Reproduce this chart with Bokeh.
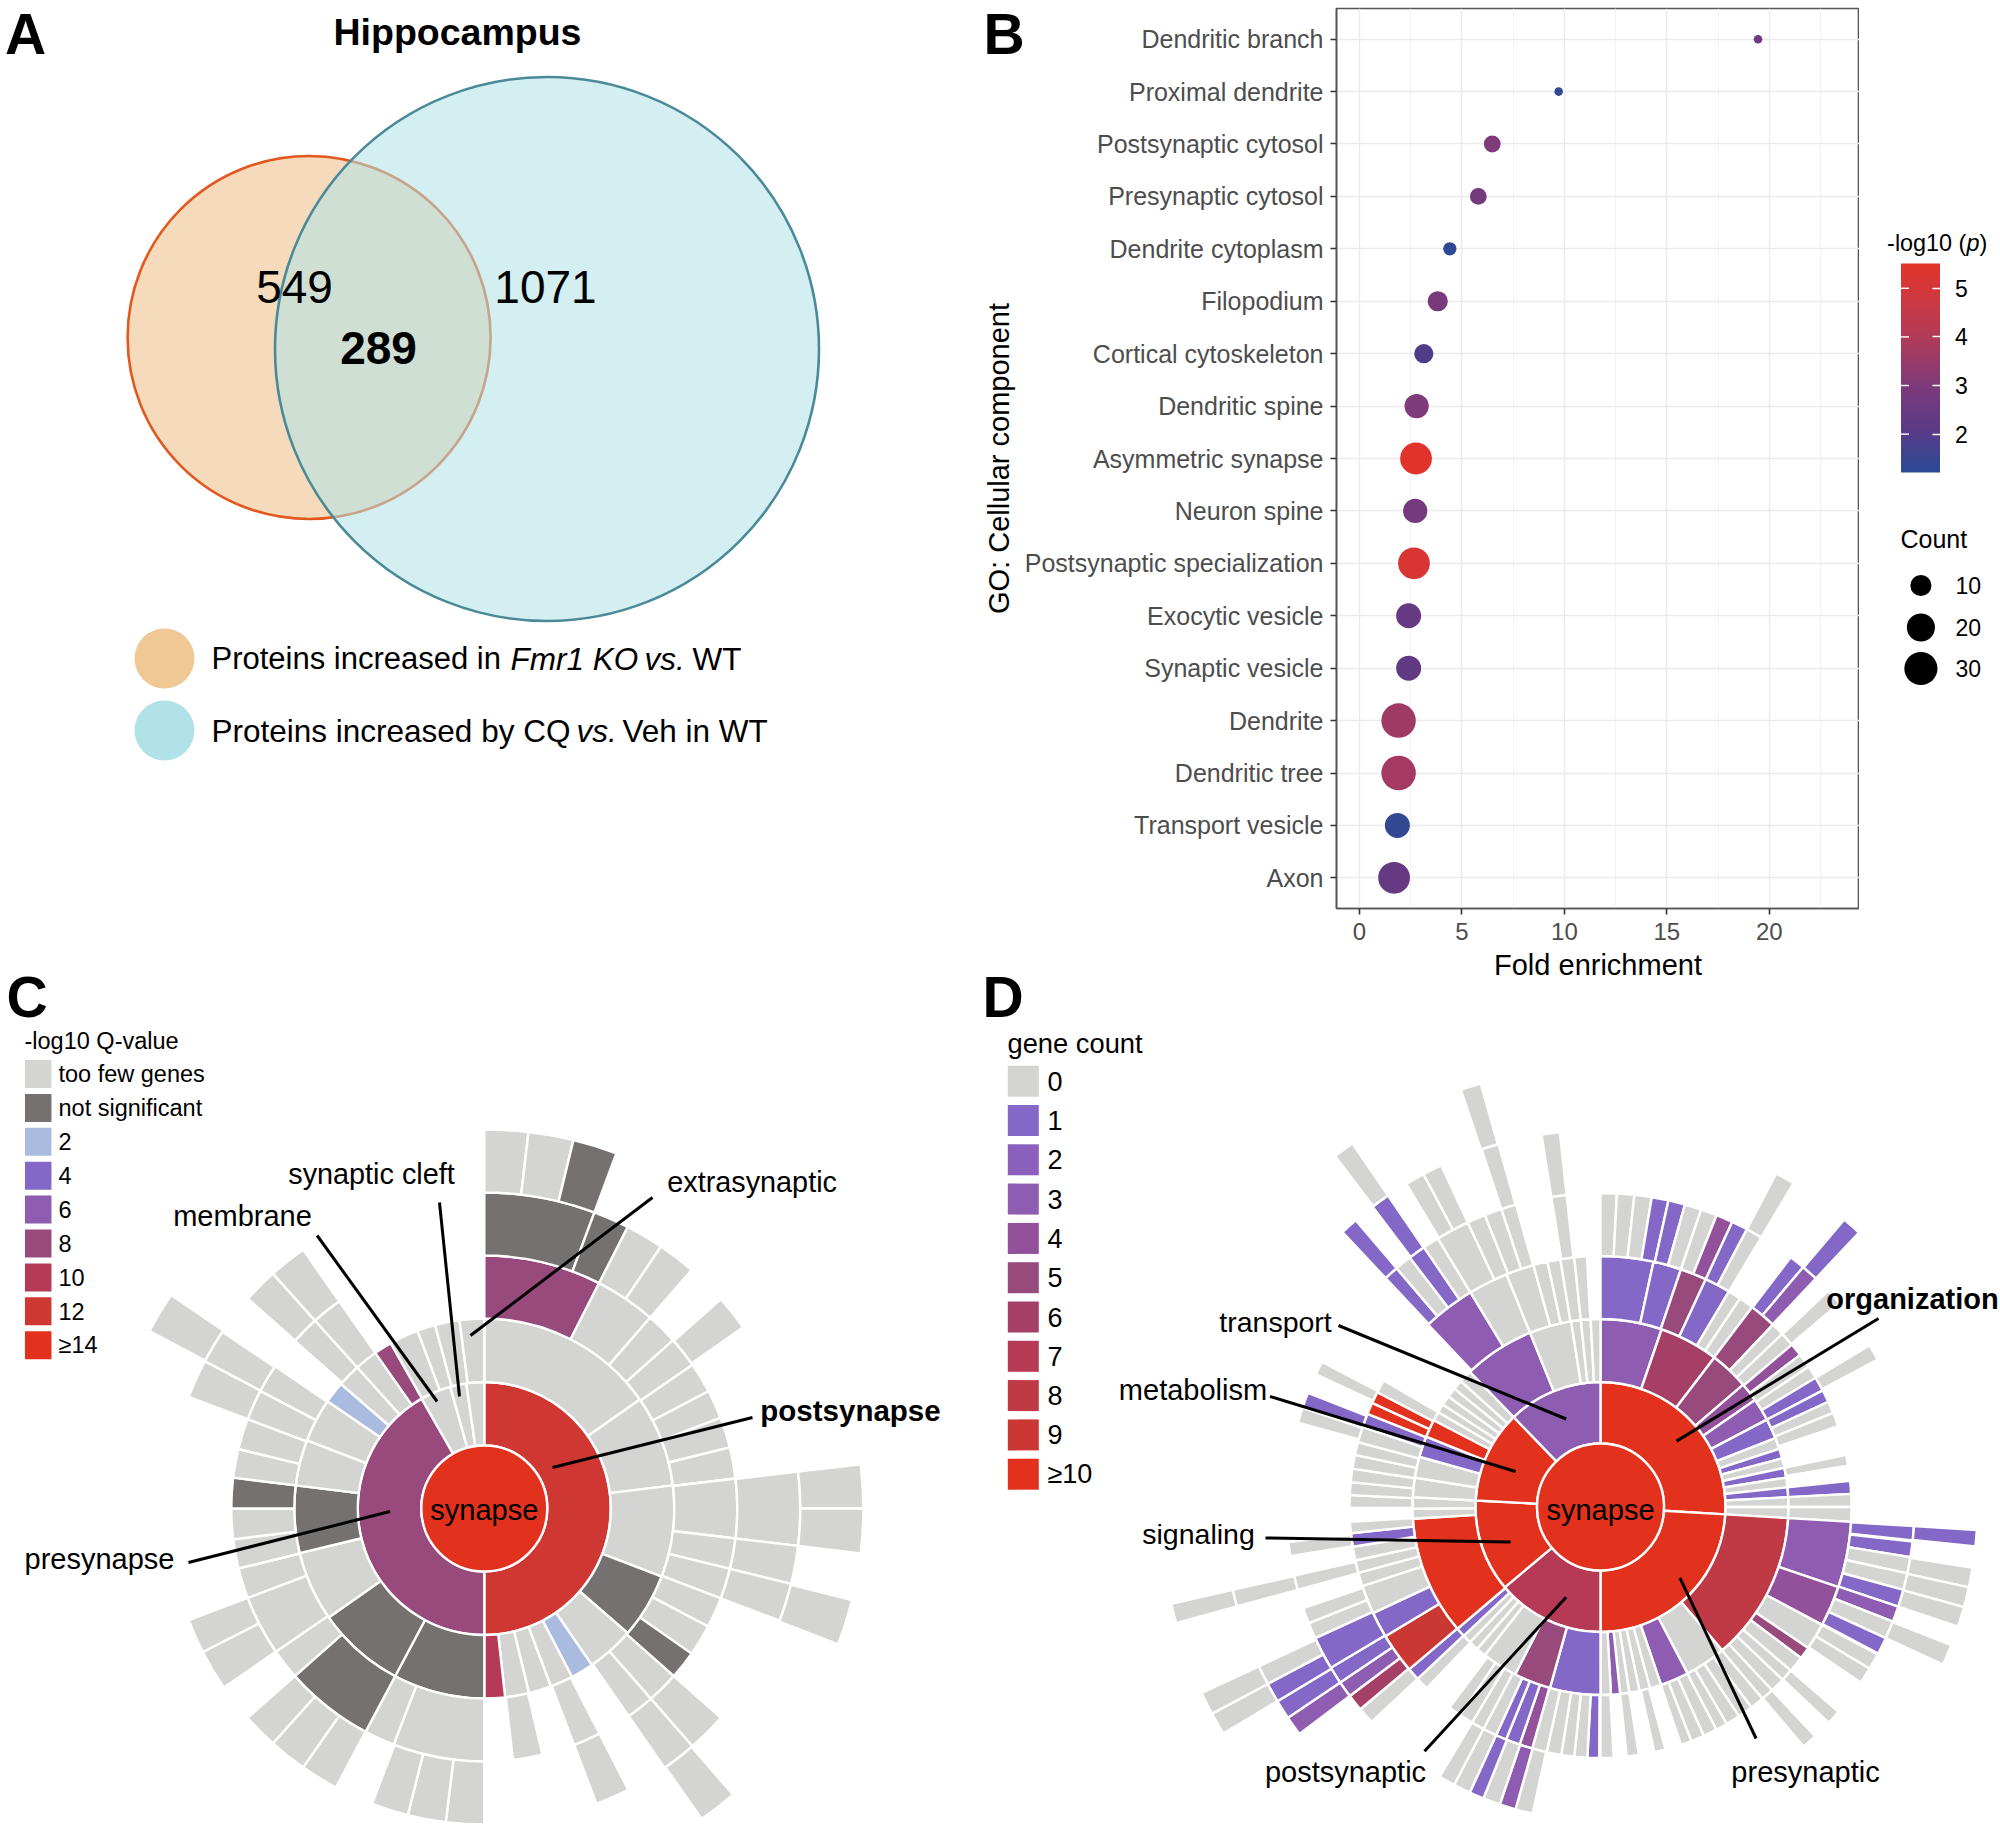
from bokeh.embed import file_html
from bokeh.resources import INLINE
from bokeh.plotting import figure
from bokeh.layouts import column, row
from bokeh.models import (ColumnDataSource, Range1d, FactorRange, FixedTicker, LinearColorMapper,
                          ColorBar)
from bokeh.core.properties import value
import math

FONT = "Liberation Sans"

# ---------- Panel A: Venn
venn_counts = ["549", "1071", "289"]
venn_title = "Hippocampus"
venn_legend_colors = ["#f0c896", "#b0e2e8"]

# ---------- Panel B: dot plot
go_terms = ["Dendritic branch", "Proximal dendrite", "Postsynaptic cytosol", "Presynaptic cytosol",
            "Dendrite cytoplasm", "Filopodium", "Cortical cytoskeleton", "Dendritic spine",
            "Asymmetric synapse", "Neuron spine", "Postsynaptic specialization", "Exocytic vesicle",
            "Synaptic vesicle", "Dendrite", "Dendritic tree", "Transport vesicle", "Axon"]
fold_enrichment = [19.45, 9.72, 6.48, 5.8, 4.41, 3.82, 3.14, 2.79, 2.76, 2.72, 2.66, 2.4, 2.4, 1.91, 1.91, 1.85, 1.69]
minus_log_p = [2.5, 1.4, 3.0, 2.8, 1.3, 2.9, 1.9, 3.0, 5.5, 2.8, 5.2, 2.4, 2.3, 3.6, 3.7, 1.4, 2.4]
gene_count = [3, 3, 6, 6, 4, 9, 8, 14, 27, 14, 27, 15, 15, 33, 33, 15, 27]
count_legend = [10, 20, 30]
x_ticks = [0, 5, 10, 15, 20]
x_minor = [2.5, 7.5, 12.5, 17.5, 22.5]
cbar_ticks = [2, 3, 4, 5]
cbar_low, cbar_high = 1.21, 5.51
cbar_anchor_colors = ["#2a4a96", "#5a3a87", "#7a3a7c", "#a83a5f", "#c93a45", "#e2332a"]

# ---------- Panel C: sunburst (-log10 Q-value)
c_levels = ["too few genes", "not significant", "2", "4", "6", "8", "10", "12", "≥14"]
c_colors = ["#d4d4d2", "#757170", "#a9bbdf", "#8468c8", "#8e5cb0", "#984a7d", "#b63a55", "#cf3733", "#e2311d"]
F, N = "too few genes", "not significant"
c_ring1 = [(0, 180, "12"), (180, 330.3, "8"), (330.3, 344.4, F), (344.4, 351.8, F), (351.8, 360, F)]
c_ring2 = [(0, 55, F), (55, 83, F), (83, 111, F), (111, 131, N), (131, 145.5, F), (145.5, 152.5, "2"),
           (152.5, 159.5, F), (159.5, 166.4, F), (166.4, 173.7, F), (173.7, 180, "10"), (180, 208, N),
           (208, 235, N), (235, 256.4, F), (256.4, 277, N), (277, 291, F), (291, 304.4, F), (304.4, 311, "2"),
           (311, 318, F), (318, 325, F), (325, 330.5, "8"), (330.5, 339.4, F), (339.4, 345, F), (345, 352.5, F),
           (352.5, 360, F)]
c_ring3 = [(0, 27, "8"), (27, 41, F), (41, 48.3, F), (48.3, 55.4, F), (55.4, 62.4, F), (62.4, 69, F), (69, 76, F),
           (76, 83.2, F), (83.2, 96.8, F), (96.8, 103.8, F), (103.8, 110.8, F), (110.8, 117.8, F), (117.8, 125, F),
           (125, 131.5, N), (131.5, 138.8, F), (138.8, 145.2, F), (152.9, 159.2, F), (166.7, 173.5, F), (180, 201, F),
           (201, 208, F), (208, 228.5, N), (228.5, 235.5, F), (235.5, 249.3, F), (249.3, 256.3, F), (256.3, 263, F),
           (263, 270, F), (270, 277, N), (277, 283.6, F), (283.6, 290.7, F), (290.7, 297.7, F), (297.7, 304.2, F),
           (311.5, 318, F), (318, 325, F)]
c_ring4 = [(0, 20.4, N), (20.4, 27, N), (27, 34, F), (34, 41, F), (48.5, 55, F), (83.3, 96.8, F), (96.8, 103.8, F),
           (103.8, 110.8, F), (131.5, 138.8, F), (138.8, 145.2, F), (152.9, 159.2, F), (180, 187, F), (187, 194, F),
           (194, 200.8, F), (208, 215, F), (215, 222, F), (222, 228.5, F), (235.5, 243, F), (243, 249.3, F),
           (290.7, 297.8, F), (297.8, 304, F), (311.6, 318, F), (318, 325, F)]
c_ring5 = [(0, 6.7, F), (6.7, 13.6, F), (13.6, 20.4, N), (83.3, 90, F), (90, 96.8, F), (104, 111, F), (139, 145, F),
           (297.9, 304.3, F)]

# ---------- Panel D: sunburst (gene count)
d_levels = ["0", "1", "2", "3", "4", "5", "6", "7", "8", "9", "≥10"]
d_colors = ["#d4d4d2", "#8468c8", "#8a60bc", "#8e5cb0", "#92519a", "#984a7d", "#a63f66", "#b63a55", "#c03a45", "#cb3733", "#e2311d"]
d_ring1 = [(0, 93.4, "≥10"), (93.4, 180, "≥10"), (180, 230, "7"), (230, 273, "≥10"), (273, 316, "≥10"), (316, 360, "3")]
d_ring2 = [(0, 19, "3"), (19, 37.3, "6"), (37.3, 49.4, "5"), (49.4, 55.3, "4"), (55.3, 62.3, "3"), (62.3, 68.5, "1"),
           (68.5, 72, "0"), (72, 75, "1"), (75, 78, "0"), (78, 81, "1"), (81, 84, "0"), (84, 87, "1"), (87, 90, "0"),
           (90, 93.4, "0"), (93.4, 139.7, "8"), (139.7, 152.4, "0"), (152.4, 161.2, "3"), (161.2, 164.7, "0"),
           (164.7, 168, "0"), (168, 171.2, "0"), (171.2, 174, "0"), (174, 176.8, "3"), (176.8, 180, "0"),
           (180, 195.6, "1"), (195.6, 207, "5"), (207, 218, "0"), (218, 221, "0"), (221, 224, "0"), (224, 226.7, "0"),
           (226.7, 229.6, "1"), (229.6, 266.4, "≥10"), (266.4, 269.5, "0"), (269.5, 273, "0"), (273, 279, "0"),
           (279, 285.5, "0"), (285.5, 292, "1"), (292, 297.5, "≥10"), (297.5, 300.3, "0"), (300.3, 303, "0"),
           (303, 306, "0"), (306, 309, "0"), (309, 312, "0"), (312, 316, "0"), (316, 338, "3"), (338, 351, "0"),
           (351, 354, "0"), (354, 357, "0"), (357, 360, "0")]
d_ring3 = [(0, 12.2, "1"), (12.2, 18.7, "1"), (18.7, 24.8, "5"), (24.8, 30.8, "1"), (30.8, 33.8, "0"), (33.8, 37.2, "0"),
           (37.2, 43.4, "5"), (43.4, 46.4, "0"), (46.4, 49.7, "0"), (49.7, 52.7, "4"), (52.7, 56, "0"), (56, 59, "0"),
           (59, 62.3, "1"), (62.3, 65.2, "1"), (65.2, 68, "0"), (68, 71.2, "0"), (78, 80.5, "0"), (84, 87, "1"),
           (87, 90, "0"), (90, 93.4, "0"), (93.4, 108.6, "3"), (108.6, 118, "4"), (118, 124.2, "0"), (124.2, 127, "5"),
           (127, 130.7, "0"), (130.7, 133.5, "0"), (133.5, 136.9, "0"), (136.9, 139.8, "0"), (139.8, 143, "0"),
           (143, 146.5, "0"), (146.5, 149.8, "0"), (149.8, 152.5, "0"), (152.5, 155.7, "0"), (155.7, 158.8, "0"),
           (158.8, 161.3, "0"), (165, 167.6, "0"), (171.2, 174, "0"), (177, 180, "0"), (180.3, 183, "1"), (183, 186, "0"),
           (186, 189, "0"), (189, 192.4, "0"), (192.4, 195.8, "0"), (195.8, 198.8, "4"), (198.8, 202.1, "1"),
           (202.1, 204.6, "1"), (204.6, 207.8, "0"), (207.8, 210.8, "0"), (210.8, 214, "0"), (214, 217, "0"),
           (223.8, 226.8, "0"), (226.8, 229.7, "1"), (229.7, 239, "9"), (239, 245, "1"), (245, 251.6, "0"),
           (251.6, 254.8, "0"), (254.8, 257.7, "0"), (257.7, 260.9, "0"), (260.9, 264, "1"), (264, 266.6, "0"),
           (269.8, 272.7, "0"), (272.7, 275.7, "0"), (275.7, 278.8, "0"), (278.8, 282, "0"), (282, 285, "0"),
           (285, 288.6, "0"), (288.6, 291.8, "1"), (291.8, 294.5, "≥10"), (294.5, 297.2, "≥10"), (297.2, 300.3, "0"),
           (316.6, 328.8, "3"), (328.8, 338, "0"), (338, 344.5, "0"), (344.5, 347.8, "0"), (347.8, 350.8, "0"),
           (350.8, 354, "0"), (354, 356.9, "0")]
d_ring4 = [(0, 3, "0"), (3, 6.2, "0"), (6.2, 9.4, "0"), (9.4, 12.5, "1"), (12.5, 15.6, "1"), (15.6, 18.7, "0"),
           (18.7, 21.7, "0"), (21.7, 24.8, "4"), (24.8, 27.8, "1"), (27.8, 30.8, "0"), (37.3, 40.2, "1"), (40.2, 43.3, "3"),
           (46.5, 49.5, "0"), (59, 62, "0"), (93.5, 96.1, "1"), (96.3, 99.2, "1"), (99.2, 102.2, "0"), (102.2, 105.3, "0"),
           (105.3, 108.5, "1"), (108.5, 111.4, "3"), (111.4, 114.7, "0"), (114.7, 117.8, "1"), (118, 121, "0"), (121, 124, "0"),
           (130.7, 133.4, "0"), (136.9, 139.7, "0"), (192.5, 195.7, "0"), (195.7, 198.7, "3"), (198.7, 201.9, "0"),
           (201.9, 204.6, "1"), (204.6, 207.8, "0"), (207.8, 210.8, "0"), (226.8, 229.9, "0"), (229.9, 233, "6"),
           (233, 236, "3"), (236, 239.2, "1"), (239.2, 245.3, "1"), (245.3, 248.3, "0"), (248.3, 251.2, "0"),
           (254.7, 257.4, "0"), (261, 263.6, "0"), (285.6, 288.4, "0"), (288.4, 291.3, "1"), (295, 297.5, "0"),
           (316.8, 319.5, "1"), (319.5, 322.6, "0"), (322.6, 325.8, "1"), (325.8, 328.8, "0"), (328.8, 335, "0"),
           (335, 338.4, "0"), (338.4, 341.6, "0"), (341.6, 344.4, "0"), (351, 353.8, "0")]
d_ring5 = [(27.8, 30.8, "0"), (40.3, 43.3, "1"), (93.5, 96, "1"), (99.3, 102.3, "0"), (102.3, 105.4, "0"),
           (105.4, 108.5, "0"), (111.5, 114.7, "0"), (233, 236, "3"), (236, 239, "1"), (239, 242, "1"), (242, 245, "0"),
           (254.7, 257.3, "0"), (316.8, 319.5, "1"), (322.8, 325.7, "1"), (329, 332, "0"), (332, 335, "0"),
           (341.6, 344.3, "0"), (351, 353.8, "0")]
d_ring6 = [(239, 242, "0"), (242, 245, "0"), (254.7, 257.3, "0"), (322.9, 325.7, "0"), (341.5, 344.2, "0")]


def canvas(x0, x1, y0, y1):
    """Transparent figure whose data units are page pixels; y is the negated page y."""
    p = figure(width=int(x1 - x0), height=int(y1 - y0), x_range=Range1d(x0, x1), y_range=Range1d(-y1, -y0),
               output_backend="svg", toolbar_location=None, min_border=0, outline_line_color=None,
               x_axis_location=None, y_axis_location=None, background_fill_color=None, border_fill_color=None,
               frame_align=False)
    p.grid.visible = False
    return p


def txt(p, x, y, s, size, align="left", style="normal", color="#000000"):
    p.text(x=[x], y=[-y], text=[s], text_font=value(FONT), text_font_size=value(f"{size}px"),
           text_font_style=style, text_align=align, text_baseline="middle", text_color=color)


def leader(p, x0, y0, x1, y1):
    p.segment(x0=[x0], y0=[-y0], x1=[x1], y1=[-y1], line_color="black", line_width=3)


def sunburst(p, cx, cy, radii, rings, levels, colors):
    cmap = dict(zip(levels, colors))
    for i, ring in enumerate(rings):
        src = ColumnDataSource(dict(
            x=[cx] * len(ring), y=[-cy] * len(ring),
            start=[math.radians(90 - e) for s, e, _ in ring],
            end=[math.radians(90 - s) for s, e, _ in ring],
            color=[cmap[k] for _, _, k in ring]))
        p.annular_wedge(x="x", y="y", inner_radius=radii[i], outer_radius=radii[i + 1], start_angle="start",
                        end_angle="end", fill_color="color", line_color="white", line_width=2.4, source=src)
    p.circle(x=[cx], y=[-cy], radius=radii[0], fill_color=colors[-1], line_color="white", line_width=2.4)


ROW1_H = 983

# ================= A (its canvas also carries the letter of panel B, under that panel's clear border)
a = canvas(0, 1030, 0, ROW1_H)
a.circle(x=[308.6], y=[-337], radius=181.5, fill_color=venn_legend_colors[0], fill_alpha=0.65,
         line_color="#e2581e", line_width=2.6)
a.circle(x=[546.5], y=[-348.5], radius=272, fill_color=venn_legend_colors[1], fill_alpha=0.55,
         line_color="#4a8a98", line_width=2.6)
txt(a, 25, 33, "A", 57, "center", "bold")
txt(a, 983, 33, "B", 57, "left", "bold")
txt(a, 457, 31, venn_title, 37.5, "center", "bold")
txt(a, 294, 286, venn_counts[0], 46, "center")
txt(a, 545, 286, venn_counts[1], 46, "center")
txt(a, 378, 347, venn_counts[2], 46, "center", "bold")
for cy_, col in zip([658, 730], venn_legend_colors):
    a.circle(x=[164], y=[-cy_], radius=30, fill_color=col, line_color=None)
txt(a, 211, 658, "Proteins increased in", 31)
txt(a, 510, 658, "Fmr1 KO", 31.5, style="italic")
txt(a, 644, 658, "vs.", 31.5, style="italic")
txt(a, 692, 658, "WT", 31.5)
txt(a, 211, 730, "Proteins increased by CQ", 31.5)
txt(a, 576, 730, "vs.", 31.5, style="italic")
txt(a, 622, 730, "Veh in WT", 31.5)

# ================= B
def interp_palette(anchors, n=128):
    rgb = [tuple(int(c[i:i + 2], 16) for i in (1, 3, 5)) for c in anchors]
    out = []
    for k in range(n):
        t = k / (n - 1) * (len(rgb) - 1)
        j = min(int(t), len(rgb) - 2)
        f = t - j
        out.append("#%02x%02x%02x" % tuple(round(rgb[j][m] + (rgb[j + 1][m] - rgb[j][m]) * f) for m in range(3)))
    return out


def count_to_size(c):
    return 8.6 + 25.9 * math.sqrt((c - 3) / 30)


mapper = LinearColorMapper(palette=interp_palette(cbar_anchor_colors), low=cbar_low, high=cbar_high)
b = figure(width=891, height=ROW1_H, x_range=Range1d(-1.12, 24.4),
           y_range=FactorRange(factors=go_terms[::-1], range_padding=0.085, range_padding_units="absolute"),
           output_backend="svg", toolbar_location=None, min_border_left=368, min_border_right=0,
           min_border_top=8, min_border_bottom=69, x_axis_label="Fold enrichment", frame_align=False,
           y_axis_label="GO: Cellular component", outline_line_color="#555555", outline_line_width=1.6,
           border_fill_color=None, background_fill_color="white", margin=(0, 0, 0, -62))
src_b = ColumnDataSource(dict(x=fold_enrichment, y=go_terms, p=minus_log_p, s=[count_to_size(c) for c in gene_count]))
b.scatter(x="x", y="y", size="s", source=src_b, line_color=None,
          fill_color={"field": "p", "transform": mapper})
b.xaxis.ticker = FixedTicker(ticks=x_ticks, minor_ticks=x_minor)
b.xaxis.major_label_text_font_size = "24px"
b.yaxis.major_label_text_font_size = "25px"
for ax in (b.xaxis, b.yaxis):
    ax.major_label_text_font = FONT
    ax.major_label_text_color = "#4d4d4d"
    ax.axis_label_text_font = FONT
    ax.axis_label_text_font_size = "29px"
    ax.axis_label_text_font_style = "normal"
    ax.axis_label_text_color = "#000000"
    ax.major_tick_line_color = "#333333"
    ax.major_tick_line_width = 1.6
    ax.major_tick_out = 6
    ax.major_tick_in = 0
    ax.minor_tick_line_color = None
    ax.axis_line_color = "#555555"
    ax.axis_line_width = 1.6
b.xaxis.major_label_standoff = 8
b.yaxis.major_label_standoff = 7
b.xaxis.axis_label_standoff = 6
b.yaxis.axis_label_standoff = 7
b.xgrid.grid_line_color = "#ebebeb"
b.xgrid.grid_line_width = 1.4
b.xgrid.minor_grid_line_color = "#f3f3f3"
b.xgrid.minor_grid_line_width = 1
b.ygrid.grid_line_color = "#ebebeb"
b.ygrid.grid_line_width = 1.4

# legend strip right of panel B
bl = canvas(1859, 2000, 0, ROW1_H)
BAR_L, BAR_R, BAR_T, BAR_B = 1900.5, 1940, 263, 472
cb = ColorBar(color_mapper=mapper, ticker=FixedTicker(ticks=cbar_ticks), width=int(BAR_R - BAR_L), height=BAR_B - BAR_T,
              location=(BAR_L - 1859, ROW1_H - BAR_B), margin=0, padding=0, major_label_text_font=FONT,
              major_label_text_font_size="23px", major_label_text_color="#000000", major_tick_line_color="white",
              major_tick_line_width=1.4, major_tick_in=8, major_tick_out=0, minor_tick_line_color=None,
              bar_line_color=None, label_standoff=15, background_fill_color=None)
bl.add_layout(cb)
y_tick = [BAR_B - (t - cbar_low) / (cbar_high - cbar_low) * (BAR_B - BAR_T) for t in cbar_ticks]
bl.segment(x0=[BAR_L] * 4, x1=[BAR_L + 8] * 4, y0=[-t for t in y_tick], y1=[-t for t in y_tick],
           line_color="white", line_width=1.4, level="overlay")
txt(bl, 1886.6, 242, "-log10 (", 23.4)
txt(bl, 1966, 242, "p", 23.4, style="italic")
txt(bl, 1979, 242, ")", 23.4)
txt(bl, 1900, 538, "Count", 25)
for c_, yy in zip(count_legend, [585, 627, 668]):
    bl.scatter(x=[1920.4], y=[-yy], size=count_to_size(c_), fill_color="black", line_color=None)
    txt(bl, 1955, yy, str(c_), 23)

# ================= C (row 2 overlaps row 1 so the panel letters are not cut)
c = canvas(0, 968, 955, 1828)
sunburst(c, 483.8, 1508, [63, 126.5, 190, 253, 316, 379],
         [c_ring1, c_ring2, c_ring3, c_ring4, c_ring5], c_levels, c_colors)
txt(c, 6, 996, "C", 57, "left", "bold")
txt(c, 24, 1040, "-log10 Q-value", 23.5)
for i, (lab, col) in enumerate(zip(c_levels, c_colors)):
    yy = 1073.5 + i * 33.9
    c.rect(x=[37.7], y=[-yy], width=26.5, height=28, fill_color=col, line_color=None)
    txt(c, 58, yy, lab, 23.5)
txt(c, 483.8, 1509, "synapse", 29, "center")
txt(c, 371, 1173, "synaptic cleft", 28.8, "center")
txt(c, 242, 1215, "membrane", 29, "center")
txt(c, 751.6, 1181.5, "extrasynaptic", 28.8, "center")
txt(c, 850, 1409.6, "postsynapse", 29.5, "center", "bold")
txt(c, 99, 1558, "presynapse", 29, "center")
leader(c, 439, 1202, 459, 1396)
leader(c, 316.6, 1235, 436.6, 1401)
leader(c, 652, 1197, 470, 1335)
leader(c, 752, 1417, 552, 1467)
leader(c, 188, 1562, 389.5, 1511)

# ================= D
d = canvas(968, 2000, 955, 1828)
sunburst(d, 1600, 1506.5, [63.5, 125, 188, 251, 314, 377, 440],
         [d_ring1, d_ring2, d_ring3, d_ring4, d_ring5, d_ring6], d_levels, d_colors)
txt(d, 982, 996, "D", 57, "left", "bold")
txt(d, 1007, 1043, "gene count", 27.3)
for i, (lab, col) in enumerate(zip(d_levels, d_colors)):
    yy = 1080.7 + i * 39.3
    d.rect(x=[1022.8], y=[-yy], width=31, height=31, fill_color=col, line_color=None)
    txt(d, 1047, yy, lab, 27)
txt(d, 1600, 1509, "synapse", 29, "center")
txt(d, 1912, 1298, "organization", 29, "center", "bold")
txt(d, 1275, 1321, "transport", 28.5, "center")
txt(d, 1192.5, 1389, "metabolism", 29, "center")
txt(d, 1198, 1533, "signaling", 28.5, "center")
txt(d, 1345, 1771, "postsynaptic", 29, "center")
txt(d, 1805, 1771, "presynaptic", 29, "center")
leader(d, 1878, 1318, 1676, 1440.6)
leader(d, 1338, 1325, 1565.6, 1418.5)
leader(d, 1269.5, 1396, 1515, 1471)
leader(d, 1265, 1537.5, 1510, 1541.4)
leader(d, 1424, 1750.7, 1565.6, 1596.8)
leader(d, 1755.6, 1738, 1679.4, 1577.4)

page = column(row(a, b, bl), row(c, d, margin=(955 - ROW1_H, 0, 0, 0)))
open("out.html", "w").write(file_html(page, INLINE))
